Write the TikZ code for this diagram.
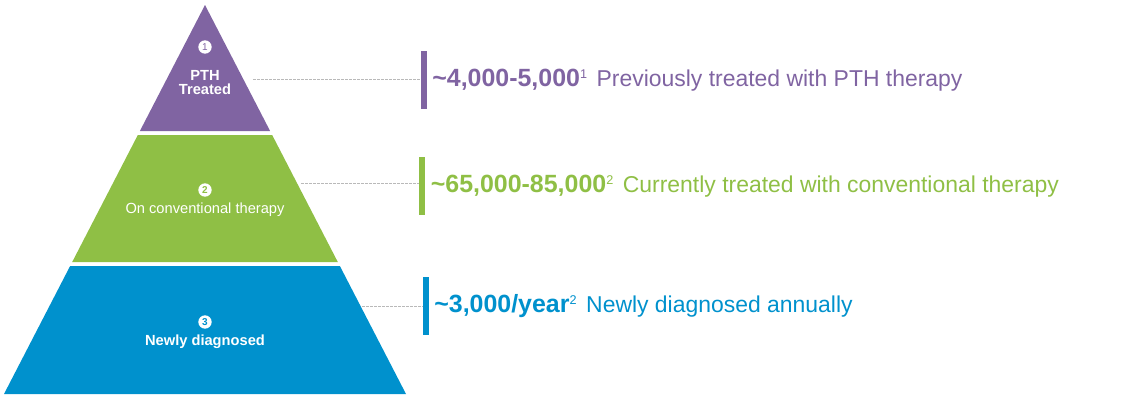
\documentclass[tikz,border=0pt]{standalone}
\usepackage{fontspec}
\setmainfont{Liberation Sans}
\usetikzlibrary{calc,positioning}
\definecolor{pthpurple}{HTML}{8064A2}
\definecolor{convgreen}{HTML}{8FBF45}
\definecolor{newblue}{HTML}{0091CD}
\newcommand{\refmark}[1]{{\mdseries\fontsize{9.5}{9.5}\selectfont\raisebox{6pt}{#1}}\hspace{2pt}}
\newcommand{\bigfig}{\fontsize{18.7}{18.7}\selectfont\bfseries}
\newcommand{\plain}{\fontsize{17.2}{17.2}\selectfont\mdseries}

\begin{document}
\begin{tikzpicture}[x=0.75pt, y=-0.75pt,
    num/.style = {circle, fill=white, inner sep=0pt, minimum size=10pt,
      font=\fontsize{7.5}{7.5}\selectfont\bfseries},
    tag/.style = {text=white, align=center, inner sep=0pt,
      font=\fontsize{11}{10.5}\selectfont},
    bar/.style = {fill=#1, minimum width=4.5pt, minimum height=43.5pt, inner sep=0pt},
    lead/.style = {draw=gray!55, dash pattern=on 2pt off 1pt, line width=0.4pt},
    fact/.style = {anchor=west, inner sep=0pt, text=#1}]
  \useasboundingbox (0,0) rectangle (1123,397);
  \coordinate (apex) at (205,5);
  \coordinate (bl) at (4,394);
  \coordinate (br) at (406,394);

  % pyramid layers
  \fill[pthpurple] (apex) -- ($(apex)!0.3239!(bl)$) -- ($(apex)!0.3239!(br)$) -- cycle;
  \fill[convgreen] ($(apex)!0.3342!(bl)$) -- ($(apex)!0.6607!(bl)$)
    -- ($(apex)!0.6607!(br)$) -- ($(apex)!0.3342!(br)$) -- cycle;
  \fill[newblue] ($(apex)!0.6710!(bl)$) -- (bl) -- (br) -- ($(apex)!0.6710!(br)$) -- cycle;

  % labels inside
  \node[num, text=pthpurple, font=\fontsize{7.5}{7.5}\selectfont] (num1) at (205,47) {1};
  \node[tag, font=\fontsize{11}{10.5}\selectfont\bfseries, below=12pt of num1] (tag1) {PTH\\Treated};
  \node[num, text=convgreen] (num2) at (205,190) {2};
  \node[tag, below=4.5pt of num2] (tag2) {On conventional therapy};
  \node[num, text=newblue] (num3) at (205,322) {3};
  \node[tag, font=\fontsize{11}{10.5}\selectfont\bfseries, below=4pt of num3] (tag3) {Newly diagnosed};

  % bars and facts
  \node[bar=pthpurple] (bar1) at (423.5,80) {};
  \node[bar=convgreen] (bar2) at (422,186) {};
  \node[bar=newblue] (bar3) at (425.5,306) {};
  \node[fact=pthpurple, right=4pt of bar1] (fact1)
    {\bigfig\textasciitilde4,000-5,000\refmark{1} \plain Previously treated with PTH therapy};
  \node[fact=convgreen, right=4pt of bar2] (fact2)
    {\bigfig\textasciitilde65,000-85,000\refmark{2} \plain Currently treated with conventional therapy};
  \node[fact=newblue, right=4pt of bar3] (fact3)
    {\bigfig\textasciitilde3,000/year\refmark{2} \plain Newly diagnosed annually};

  % leaders
  \coordinate (tip1) at (253,79);
  \coordinate (tip2) at (301,183);
  \coordinate (tip3) at (362,306);
  \draw[lead] (tip1) -- (tip1 -| bar1.west);
  \draw[lead] (tip2) -- (tip2 -| bar2.west);
  \draw[lead] (tip3) -- (tip3 -| bar3.west);
\end{tikzpicture}
\end{document}
